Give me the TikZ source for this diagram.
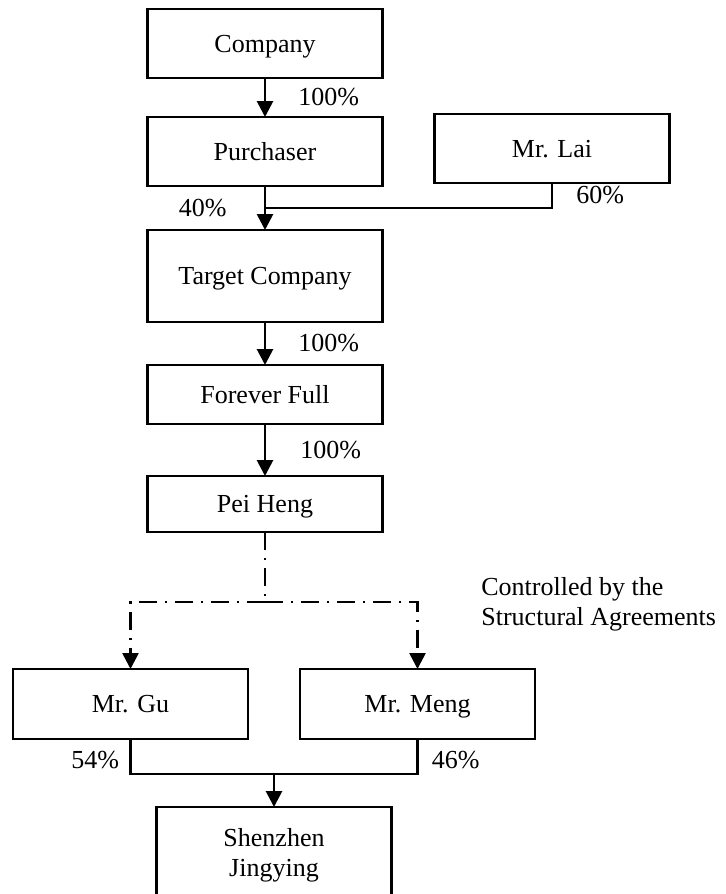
\documentclass[tikz,border=0pt]{standalone}
\usepackage{fontspec}
\setmainfont{Liberation Serif}
\usepackage{tikz}
\usetikzlibrary{arrows.meta, positioning, calc}

\begin{document}
\begin{tikzpicture}[
        node distance=20pt,
        font=\fontsize{13pt}{15pt}\selectfont,
        entity/.style={rectangle, draw, line width=1.25pt, minimum width=117.5pt, outer sep=0pt, align=center, text height=8.6pt, text depth=0pt},
        headtip/.style={-{Triangle[length=8pt, width=8pt]}},
        arrow/.style={line width=1.4pt, headtip},
        link/.style={line width=1.4pt},
        control/.style={line width=1.3pt, dash pattern=on 9pt off 4pt on 1pt off 4pt},
        share/.style={inner sep=0pt}
    ]
    \useasboundingbox (0,0) rectangle (362.5pt,-447pt);

    % Holding chain
    \node (Company) [entity, minimum height=34.5pt] at (132.5pt,-21.75pt) {Company};
    \node (Purchaser) [entity, minimum height=34.5pt, below=19.5pt of Company] {Purchaser};
    \node (Lai) [entity, minimum height=34.5pt, right=26pt of Purchaser, yshift=1.5pt] {Mr. Lai};
    \node (Target) [entity, minimum height=46pt, below=22pt of Purchaser] {Target Company};
    \node (Forever) [entity, minimum height=29.5pt, below=21.5pt of Target] {Forever Full};
    \node (PeiHeng) [entity, minimum height=28pt, below=26pt of Forever] {Pei Heng};

    \draw[arrow] (Company) -- node[share, right=16pt] {100\%} (Purchaser);

    % Purchaser and Mr. Lai into the target
    \coordinate (meet) at ($(Purchaser.south)+(0,-11pt)$);
    \draw[arrow] (Purchaser.south) -- (Target.north);
    \draw[link] (Lai.south) -- node[share, right=11.5pt] {60\%} (Lai.south |- meet) -- (meet);
    \node (Pct40) [share, left=19pt] at (meet) {40\%};

    \draw[arrow] (Target) -- node[share, right=16pt] {100\%} (Forever);
    \draw[arrow] (Forever) -- node[share, right=17pt] {100\%} (PeiHeng);

    % Structural agreements
    \node (Gu) [entity, minimum height=35pt, below=68.5pt of PeiHeng, xshift=-67.25pt] {Mr. Gu};
    \node (Meng) [entity, minimum height=35pt, right=26pt of Gu] {Mr. Meng};
    \coordinate (split) at ($(PeiHeng.south)+(0,-35pt)$);
    \draw[control] (PeiHeng.south) -- (split);
    \draw[control, headtip] (split) -| (Gu.north);
    \draw[control, headtip] (split) -| (Meng.north);
    \node (Ctrl) [share, anchor=west, align=left] at ($(split)+(108pt,-1pt)$) {Controlled by the\\Structural Agreements};

    % Shareholders of Shenzhen Jingying
    \coordinate (join) at ($(Gu.south)!0.5!(Meng.south)+(0,-17.5pt)$);
    \draw[link] (Gu.south) -- node[share, left=5pt, pos=0.6] {54\%} (Gu.south |- join)
        -- (Meng.south |- join) -- node[share, right=6.5pt, pos=0.4] {46\%} (Meng.south);
    \node (Shenzhen) [entity, text height={}, text depth={}, minimum height=48pt, below=16.5pt of join] {Shenzhen\\Jingying};
    \draw[arrow] (join) -- (Shenzhen.north);

\end{tikzpicture}
\end{document}
